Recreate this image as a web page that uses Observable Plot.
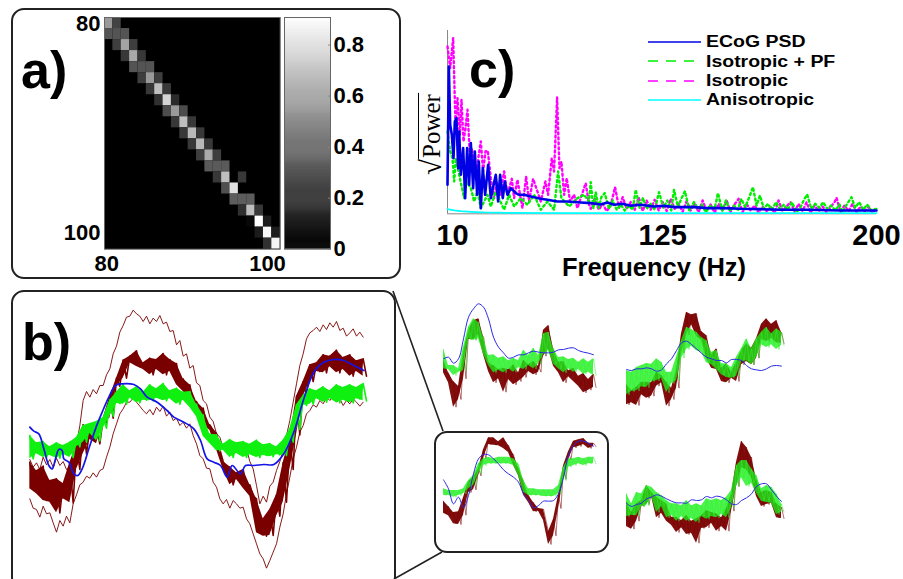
<!DOCTYPE html>
<html><head><meta charset="utf-8">
<script src="https://cdn.jsdelivr.net/npm/d3@7"></script>
<script src="https://cdn.jsdelivr.net/npm/@observablehq/plot@0.6"></script>
<style>
html,body{margin:0;padding:0;background:#fff}
#page{position:relative;width:903px;height:579px;overflow:hidden;font-family:"Liberation Sans",Arial,sans-serif;color:#000}
.abs{position:absolute}
.box{position:absolute;box-sizing:border-box;border:2px solid #222;background:transparent}
.tag{position:absolute;font-weight:bold;font-size:52px;line-height:52px}
.leg{position:absolute;font-weight:bold;font-size:16.8px;line-height:17px;left:706px;transform:scaleX(1.16);transform-origin:left center;white-space:nowrap}
svg.plot{overflow:visible}
</style></head><body><div id="page"></div>
<script>
// ---------- a) covariance matrix ----------
const cellRow=[0,0, 1,1,1, 2,2,2, 3,3,3, 4,4,4, 5,5,5, 6,6,6, 7,7,7, 8,8,8, 9,9,9, 10,10,10, 11,11,11, 12,12,12, 13,13,13, 14,14,14, 15,15, 16,16,16, 17,17,17, 18,18,18, 19,19,19, 20,20];
const cellCol=[0,1, 0,1,2, 1,2,3, 2,3,4, 3,4,5, 4,5,6, 5,6,7, 6,7,8, 7,8,9, 8,9,10, 9,10,11, 10,11,12, 11,12,13, 12,13,14, 13,14,16, 14,15, 15,16,17, 16,17,18, 17,18,19, 18,19,20, 19,20];
const cellVal=[.55,.24, .3,.3,.3, .22,.58,.22, .2,.6,.2, .3,.3,.3, .22,.55,.22, .2,.68,.2, .17,.75,.15, .27,.55,.27, .2,.68,.2, .2,.66,.2, .2,.65,.2, .22,.6,.22, .32,.32,.32, .2,.68,.2, .28,.8, .33,.33,.33, .17,.68,.2, .03,.92,.1, .1,.88,.1, .17,.87];
const matrixIndex=d3.range(80,101);
const colorTicks=[0,.2,.4,.6,.8];
// ---------- b) large trace ----------
const bStart=88,bStep=20,thinStep=10;
const meanTop=[530,556,542,585,580,594,532,478,418,428,422,398,334,278,224,212,196,232,218,222,204,222,234,280,298,348,368,418,444,528,544,562,552,598,640,700,672,628,532,458,332,288,238,232,208,212,194,216,208,226,220];
const meanBot=[610,625,645,650,682,640,652,552,505,462,475,412,398,302,278,232,243,252,268,252,268,258,298,318,352,378,418,434,492,552,598,582,608,632,742,752,750,692,650,552,448,332,288,258,262,244,262,252,272,258,272];
const upperTrace=[522,545,532,552,515,538,522,545,518,540,528,552,545,510,478,420,345,318,335,312,325,300,300,268,250,205,182,140,120,95,92,74,85,92,108,92,115,98,108,90,115,110,138,135,178,165,212,205,248,240,292,300,345,355,395,408,445,455,488,470,492,472,490,480,502,490,528,550,600,655,632,650,602,590,555,528,495,450,405,350,295,240,205,160,142,135,125,138,118,132,112,125,108,135,128,152,142,130,152,140,155];
const lowerTrace=[640,668,672,695,662,685,682,712,740,705,722,692,712,655,628,598,590,572,578,562,575,555,550,515,485,445,415,385,370,350,350,338,350,362,375,385,372,388,365,378,362,392,380,405,398,420,410,428,415,450,475,510,520,548,550,590,605,640,655,642,668,645,655,668,665,700,715,745,775,805,820,848,825,800,775,725,685,625,575,520,485,440,420,385,375,358,365,345,355,335,345,332,350,340,360,345,355,340,350,362,350];
const greenTop=[450,472,468,484,472,480,470,456,420,414,408,396,344,320,298,316,304,320,298,310,294,316,308,320,318,356,388,446,448,476,462,472,468,476,464,478,474,484,464,430,358,330,310,316,304,316,298,306,298,306,294];
const greenBot=[520,505,516,510,518,506,516,484,470,444,466,428,392,354,356,338,352,344,346,338,346,340,356,344,366,394,452,474,496,494,516,504,516,508,516,510,514,508,510,470,432,360,356,340,350,340,352,344,352,340,346];
const blueT=[88,100,115,130,145,155,165,175,185,190,205,220,232,245,265,285,305,325,345,365,400,420,440,470,500,520,550,580,600,620,640,660,680,695,720,735,760,790,820,850,880,910,940,970,1000,1030,1060,1090];
const blueV=[425,437,445,490,540,550,520,492,495,520,530,565,570,550,490,430,380,335,300,295,297,310,335,350,375,395,410,430,465,520,530,540,575,540,565,540,540,537,537,505,440,340,260,230,222,225,240,255];
// ---------- small panels: top/bottom envelope and model trace ----------
const tlMaroonTop=[195,232,258,272,172,108,76,70,124,202,210,222,218,222,208,232,194,208,198,212,104,90,160,200,198,226,218,242,234,252,236];
const tlMaroonBot=[232,262,335,312,250,132,132,118,178,228,262,250,290,252,268,258,246,228,238,230,182,160,212,232,262,244,258,272,292,284,276];
const tlGreenTop=[162,210,210,220,155,95,70,80,125,180,178,188,184,196,188,196,164,180,158,180,115,110,160,186,184,192,188,200,190,200,190];
const tlGreenBot=[220,222,240,230,226,130,135,130,176,210,232,224,232,220,230,216,222,210,220,205,178,165,206,220,232,220,230,222,236,230,240];
const tlBlue=[190,185,203,190,130,65,40,25,35,70,125,155,172,188,185,178,178,172,167,170,172,172,170,163,162,158,157,165,170,173,178];
const trMaroonTop=[238,255,245,230,230,232,200,210,230,248,195,85,20,28,24,78,90,148,130,188,175,200,170,136,115,128,100,56,40,56,45,80];
const trMaroonBot=[298,292,300,268,278,272,242,232,302,282,248,142,88,58,92,104,158,188,192,228,232,218,228,178,168,178,158,102,108,98,112,114];
const trGreenTop=[196,200,186,180,174,176,160,170,200,200,155,105,65,72,80,96,105,140,135,175,175,186,155,130,100,130,100,80,65,85,70,80];
const trGreenBot=[268,258,256,244,246,228,226,218,262,234,226,158,132,122,136,140,172,178,192,208,216,218,212,168,166,178,156,118,126,118,132,120];
const trBlue=[192,195,190,190,187,190,197,193,175,160,135,112,107,117,130,143,155,160,165,165,172,162,162,165,180,190,193,195,190,182,180,182];
const mlMaroonTop=[212,228,246,244,202,154,142,114,58,22,22,34,22,44,72,114,152,194,216,234,236,304,266,194,106,64,32,28,24,38,38];
const mlMaroonBot=[248,256,280,282,254,186,178,136,84,42,44,46,54,66,104,136,194,216,244,242,270,342,316,234,146,88,52,48,42,54,48];
const mlGreenTop=[175,180,180,180,175,150,135,100,85,80,85,80,80,80,85,100,150,175,175,178,178,178,178,165,110,85,85,80,85,80,80];
const mlGreenBot=[195,195,200,195,190,175,165,130,105,100,100,100,100,100,105,135,185,195,195,195,198,198,198,190,150,110,105,100,105,100,100];
const mlBlue=[148,175,220,200,232,195,130,85,72,73,85,100,118,130,140,155,190,210,232,225,212,212,210,190,140,75,45,32,32,38,47];
const brMaroonTop=[216,245,220,210,165,186,200,210,220,260,260,270,255,272,265,256,240,246,250,262,235,190,95,32,50,80,146,185,180,186,220,230];
const brMaroonBot=[288,296,272,228,222,198,262,248,272,284,306,292,312,308,338,294,292,278,302,288,302,242,168,112,118,142,198,228,222,218,262,264];
const brGreenTop=[190,220,186,190,165,170,185,195,210,220,220,226,210,226,220,226,205,210,205,210,200,180,105,90,90,115,135,175,165,170,190,220];
const brGreenBot=[258,254,256,228,226,198,246,228,262,254,272,258,272,264,276,258,266,258,262,252,262,232,168,142,168,158,188,212,216,218,252,245];
const brBlue=[218,228,222,218,205,200,193,197,205,212,217,217,218,208,210,208,198,202,197,200,208,220,222,210,202,190,168,160,160,178,197,213];
// ---------- c) spectra ----------
const freqTickBins=[20,666,1308], freqTickLabels=["10","125","200"];
const magentaBin=[20,28,37,44,50,57,62,68,74,80,87,93,100,108,120,127,134,141,150,160,168,178,190,200,213,220,230,245,256,265,277,290,300,314,322,333,340,349,356,362,370,378,388,400,410,420,435,445,450,462,474,486,498,510,523,535,546,558,570,582,594,606,618,630,642,654,666,678,690,702,714,726,738,750,762,774,786,798,810,822,834,846,858,870,882,894,906,918,930,942,954,966,978,990,1002,1014,1026,1038,1050,1062,1074,1086,1098,1110,1122,1134,1146,1158,1170,1182,1188,1200,1212,1224,1236,1248,1260,1272,1284,1296,1308];
const magentaVal=[502,437,527,267,347,237,342,217,257,312,177,197,147,137,217,127,187,189,107,47,97,57,127,57,105,47,102,17,112,37,105,67,37,97,57,167,127,349,137,157,57,107,37,57,17,47,92,27,15,45,12,30,8,25,80,18,50,15,35,12,50,8,40,12,42,10,35,8,45,15,30,6,38,10,30,5,40,8,28,3,30,8,40,6,28,45,5,30,10,25,3,22,8,20,3,40,8,22,35,6,30,8,35,3,25,8,22,5,20,35,48,5,25,8,30,5,22,8,20,3,15];
const greenBin=[20,28,35,40,45,55,70,77,90,100,110,120,140,150,165,190,205,220,240,260,280,300,320,340,352,362,385,410,430,445,450,458,465,474,482,492,505,516,528,540,552,564,576,585,597,607,618,630,642,655,668,680,692,700,712,722,733,746,760,772,784,795,810,822,832,845,856,868,880,892,902,914,926,937,948,958,970,982,994,1006,1018,1030,1042,1054,1068,1080,1092,1100,1112,1124,1136,1148,1160,1172,1185,1197,1205,1220,1233,1244,1256,1268,1280,1292,1308];
const greenVal=[247,187,167,97,167,117,47,97,77,37,67,17,57,22,67,12,57,22,47,27,57,12,37,12,127,47,22,47,57,37,95,15,65,18,50,62,15,40,12,28,10,25,12,72,18,48,15,30,12,65,18,40,10,72,20,45,68,10,35,15,28,5,25,15,62,10,40,8,25,12,45,20,50,80,25,55,15,30,12,35,15,28,12,35,5,20,45,58,15,30,18,35,15,25,10,28,5,30,50,18,35,12,28,10,15];
const blueBin=[20,24,28,33,38,42,47,52,55,60,67,73,79,85,90,97,102,109,114,120,126,133,142,150,165,172,178,186,192,200,210,225,235,250,270,300,320,350,380,420,450,480,500,520,545,570,600,640,670,700,760,800,850,900,960,1020,1100,1200,1308];
const blueVal=[87,442,267,237,167,277,287,137,247,117,197,47,197,87,212,77,187,57,157,17,137,57,147,47,117,37,117,47,97,57,77,62,57,57,52,45,42,37,37,34,32,28,34,27,30,24,27,22,24,20,20,17,17,15,14,12,12,10,10];
const cyanBin=[20,40,60,90,130,200,400,1308];
const cyanVal=[14,10,8,6,4,3,2,2];
const legendLabels=["ECoG PSD","Isotropic + PF","Isotropic","Anisotropic"];
const legendColors=["#0000e6","#00ee00","#ff00ff","#00ffff"];

const page=document.getElementById("page");
function place(node,left,top){node.style.position="absolute";node.style.left=left+"px";node.style.top=top+"px";node.style.maxWidth="none";page.appendChild(node);return node;}
function div(cls,style,text){const d=document.createElement("div");d.className=cls;d.style.cssText=style;if(text)d.textContent=text;page.appendChild(d);return d;}
const labelFont={fontSize:22,fontWeight:"bold",fill:"#000",tickSize:0,label:null};

// frames
div("box","left:11px;top:8px;width:390px;height:271px;border-radius:13px");
div("box","left:11px;top:290px;width:385px;height:300px;border-radius:13px");
div("box","left:434px;top:431px;width:175px;height:122px;border-radius:13px");
const ns="http://www.w3.org/2000/svg";
const conn=document.createElementNS(ns,"svg");conn.setAttribute("width",903);conn.setAttribute("height",579);conn.style.cssText="position:absolute;left:0;top:0";
[[393,291,443,431],[394,579,442,552]].forEach(([a,b,c,d])=>{const l=document.createElementNS(ns,"line");l.setAttribute("x1",a);l.setAttribute("y1",b);l.setAttribute("x2",c);l.setAttribute("y2",d);l.setAttribute("stroke","#222");l.setAttribute("stroke-width",1.6);conn.appendChild(l);});
page.appendChild(conn);

// a) matrix
const cells=cellRow.map((r,i)=>({row:80+r,col:80+cellCol[i],v:cellVal[i]}));
place(Plot.plot({width:175.7,height:231.7,margin:0,style:{fontFamily:"Liberation Sans",background:"transparent",overflow:"visible"},
  x:{domain:matrixIndex,padding:0,round:false,axis:null},y:{domain:matrixIndex,padding:0,round:false,axis:null},
  color:{type:"linear",domain:[0,.908],range:["#000","#fff"]},
  marks:[Plot.frame({fill:"#000"}),Plot.cell(cells,{x:"col",y:"row",fill:"v",inset:0}),Plot.frame({stroke:"#666"}),
    Plot.axisX({ticks:[80],anchor:"bottom",tickPadding:6,dx:-2,...labelFont}),
    Plot.axisX({ticks:[100],anchor:"bottom",tickPadding:6,dx:-8.5,...labelFont}),
    Plot.axisY({ticks:[80],anchor:"left",tickPadding:4,dy:1,...labelFont}),
    Plot.axisY({ticks:[100],anchor:"left",tickPadding:4,dy:-10.5,...labelFont})]}),104,16.5);
// colour bar
const levels=d3.range(0,.908,.004);
place(Plot.plot({width:46,height:231.7,margin:0,style:{fontFamily:"Liberation Sans",background:"transparent",overflow:"visible"},
  x:{domain:[0,1],axis:null},y:{domain:[0,.908],range:[231.7,0],axis:null},
  color:{type:"linear",domain:[0,.908],range:["#000","#fff"]},
  marks:[Plot.rect(levels,{x1:0,x2:1,y1:d=>d,y2:d=>Math.min(.908,d+.006),fill:d=>d,inset:0}),
    Plot.ruleY(colorTicks,{x1:.96,x2:1,stroke:"#888"}),Plot.frame({stroke:"#666"}),
    Plot.axisY({ticks:colorTicks,anchor:"right",tickPadding:3,tickFormat:d=>d===0?"0":d.toFixed(1),...labelFont})]}),283.5,16.5);

div("tag","left:21px;top:44px","a)");
div("tag","left:22px;top:316px","b)");
div("tag","left:469px;top:43px","c)");

// traces
function zig(top,bot,start,step){return top.flatMap((t,i)=>[{x:start+i*step,y:t},{x:start+(i+.5)*step,y:bot[i]}]);}
function band(top,bot,start,step){return top.map((t,i)=>({x:start+i*step,t,b:bot[i]}));}
const series=(vals,start,step)=>vals.map((y,i)=>({x:start+i*step,y}));
function tracePlot(w,h,marks){return Plot.plot({width:w,height:h,margin:0,style:{background:"transparent",overflow:"visible"},
  x:{domain:[0,w*3],range:[0,w],axis:null},y:{domain:[0,h*3],range:[0,h],axis:null},marks});}

// b) main panel
const bMarks=[
  Plot.line(series(upperTrace,bStart,thinStep),{x:"x",y:"y",stroke:"#7a0000",strokeWidth:1,strokeOpacity:.9}),
  Plot.line(series(lowerTrace,bStart,thinStep),{x:"x",y:"y",stroke:"#7a0000",strokeWidth:1,strokeOpacity:.9}),
  Plot.areaY(band(meanTop,meanBot,bStart,bStep),{x:"x",y1:"t",y2:"b",fill:"#7a0000"}),
  Plot.line(zig(meanTop,meanBot,bStart,bStep),{x:"x",y:"y",stroke:"#7a0000",strokeWidth:1.6}),
  Plot.areaY(band(greenTop,greenBot,bStart,bStep),{x:"x",y1:"t",y2:"b",fill:"#10f010"}),
  Plot.line(zig(greenTop,greenBot,bStart,bStep),{x:"x",y:"y",stroke:"#10f010",strokeWidth:1.6}),
  Plot.line(blueT.map((t,i)=>({x:t,y:blueV[i]})),{x:"x",y:"y",stroke:"#1414e6",strokeWidth:1.7,curve:"catmull-rom"})
];
place(tracePlot(400,294,bMarks),0,285);

// small panels
function small(mt,mb,gt,gb,bl,start,left,top){
  return place(tracePlot(165,115,[
    Plot.areaY(band(mt,mb,start,15),{x:"x",y1:"t",y2:"b",fill:"#7a0000",fillOpacity:.95}),
    Plot.line(zig(mt,mb,start,15),{x:"x",y:"y",stroke:"#7a0000",strokeWidth:.8,strokeOpacity:.7}),
    Plot.areaY(band(gt,gb,start,15),{x:"x",y1:"t",y2:"b",fill:"#18f018",fillOpacity:.78}),
    Plot.line(zig(gt,gb,start,15),{x:"x",y:"y",stroke:"#30f030",strokeWidth:.8,strokeOpacity:.7,strokeDasharray:"2 1"}),
    Plot.line(bl.map((v,i)=>({x:start+i*15,y:v})),{x:"x",y:"y",stroke:"#2a2ae6",strokeWidth:1,curve:"catmull-rom"})
  ]),left,top);
}
small(tlMaroonTop,tlMaroonBot,tlGreenTop,tlGreenBot,tlBlue,15,438,295);
small(trMaroonTop,trMaroonBot,trGreenTop,trGreenBot,trBlue,18,620,305);
small(mlMaroonTop,mlMaroonBot,mlGreenTop,mlGreenBot,mlBlue,15,438,430);
small(brMaroonTop,brMaroonBot,brGreenTop,brGreenBot,brBlue,18,620,430);

// c) spectrum
const pts=(b,v)=>b.map((x,i)=>({x,y:v[i]}));
const bigTick={anchor:"bottom",tickSize:0,tickPadding:11,fontSize:29,fontWeight:"bold",fill:"#000",label:null};
place(Plot.plot({width:429,height:183.3,margin:0,style:{fontFamily:"Liberation Sans",background:"transparent",overflow:"visible"},
  x:{domain:[20,1308],axis:null},y:{domain:[0,550],axis:null},
  marks:[
    Plot.ruleX([20],{stroke:"#888"}),Plot.ruleY([0],{stroke:"#888"}),
    Plot.line(pts(magentaBin,magentaVal),{x:"x",y:"y",stroke:"#ff00ff",strokeWidth:2.4,strokeDasharray:"2 3"}),
    Plot.line(pts(greenBin,greenVal),{x:"x",y:"y",stroke:"#00ee00",strokeWidth:2.4,strokeDasharray:"2 3"}),
    Plot.line(pts(cyanBin,cyanVal),{x:"x",y:"y",stroke:"#00ffff",strokeWidth:1.8}),
    Plot.line(pts(blueBin,blueVal),{x:"x",y:"y",stroke:"#0000e6",strokeWidth:2.6}),
    Plot.axisX({ticks:[freqTickBins[0]],dx:5,tickFormat:()=>freqTickLabels[0],...bigTick}),
    Plot.axisX({ticks:[freqTickBins[1]],tickFormat:()=>freqTickLabels[1],...bigTick}),
    Plot.axisX({ticks:[freqTickBins[2]],tickFormat:()=>freqTickLabels[2],...bigTick})
  ]}),447,30);
div("abs","left:454px;top:253px;width:400px;text-align:center;font-weight:bold;font-size:25.5px;line-height:28px","Frequency (Hz)");
// y label
const yl=div("abs","left:431px;top:134px;transform:translate(-50%,-50%) rotate(-90deg);font-family:'Liberation Serif',serif;font-size:25px;line-height:25px;white-space:nowrap;display:flex;align-items:flex-end");
yl.innerHTML='<span style="font-size:29px;line-height:25px">√</span><span style="border-top:1.2px solid #000;line-height:25px;padding:0 1px">Power</span>';
// legend
legendLabels.forEach((t,i)=>{
  const y=41.7+i*19.4;
  const dash=(i===1||i===2)?"10 8":null;
  const s=document.createElementNS(ns,"svg");s.setAttribute("width",54);s.setAttribute("height",4);s.style.cssText=`position:absolute;left:648px;top:${y-2}px`;
  const l=document.createElementNS(ns,"line");l.setAttribute("x1",0);l.setAttribute("x2",53);l.setAttribute("y1",2);l.setAttribute("y2",2);l.setAttribute("stroke",legendColors[i]);l.setAttribute("stroke-width",1.6);if(dash)l.setAttribute("stroke-dasharray",dash);s.appendChild(l);page.appendChild(s);
  div("leg",`top:${y-8.5}px`,t);
});
</script></body></html>
